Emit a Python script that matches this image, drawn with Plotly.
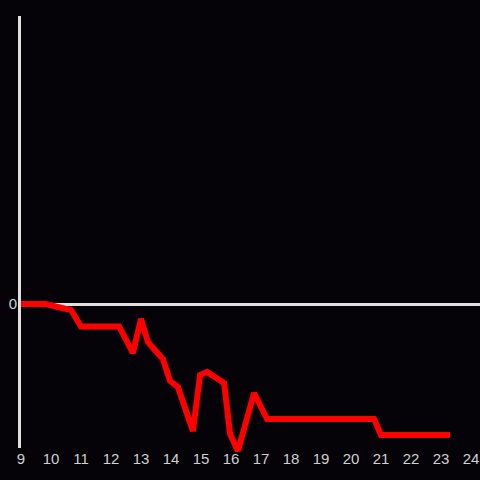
import plotly.graph_objects as go

# hours of the day (x) and value relative to start (y, arbitrary units)
hours = [9.0, 9.83, 10.67, 11.0, 12.27, 12.73, 13.0, 13.23, 13.73, 13.97, 14.23,
         14.73, 14.97, 15.2, 15.77, 15.97, 16.23, 16.77, 17.2, 20.77, 21.0, 23.3]
values = [0.0, 0.0, -0.042, -0.156, -0.156, -0.340, -0.104, -0.264, -0.382, -0.535, -0.576,
          -0.882, -0.493, -0.472, -0.549, -0.903, -1.021, -0.618, -0.799, -0.799, -0.910, -0.910]
x_ticks = list(range(9, 25))
y_ticks = [0]

BG = "#050308"
AX = "#e0e0e0"
TXT = "#d0d0d0"

W, H = 480, 480
mt, mb, ml, mr = 16, 4, 21, 0
plot_h = H - mt - mb
axis_bottom_px = 448
dom0 = (H - mb - axis_bottom_px) / plot_h

# scale: value -1 sits at the axis bottom, 2 at the top
units_per_px = 3 / (axis_bottom_px - mt)
y2_lo = -1 - (H - mb - axis_bottom_px) * units_per_px
x_hi = 9 + (W - ml - mr) / 30.0

fig = go.Figure()
# invisible copy on the primary axes so that the axis frame exists
fig.add_trace(go.Scatter(
    x=hours, y=values, mode="lines", xaxis="x", yaxis="y",
    line=dict(color="rgba(0,0,0,0)", width=0), hoverinfo="skip", showlegend=False,
))
fig.add_trace(go.Scatter(
    x=hours, y=values, mode="lines", xaxis="x", yaxis="y2",
    line=dict(color="#ff0000", width=6), hoverinfo="skip", showlegend=False,
))

fig.update_layout(
    width=W, height=H,
    margin=dict(l=ml, r=mr, t=mt, b=mb),
    paper_bgcolor=BG, plot_bgcolor="rgba(0,0,0,0)",
    font=dict(family="Liberation Sans, Arial, sans-serif", size=15, color=TXT),
    showlegend=False,
    xaxis=dict(range=[9, x_hi], tickvals=x_ticks, ticktext=[str(t) for t in x_ticks],
               showgrid=False, zeroline=False, showline=False, ticks="",
               anchor="y", automargin=False, fixedrange=True),
    yaxis=dict(domain=[dom0, 1], range=[-1, 2], showgrid=False, zeroline=False,
               showline=True, linecolor=AX, linewidth=3, showticklabels=False,
               ticks="", anchor="x", automargin=False, fixedrange=True),
    yaxis2=dict(domain=[0, 1], range=[y2_lo, 2], anchor="x",
                showgrid=False, zeroline=True, zerolinecolor=AX, zerolinewidth=3,
                showline=False, ticks="", tickvals=y_ticks, ticktext=["0"],
                ticklabelstandoff=3, automargin=False, fixedrange=True),
)

fig.write_html("out.html", config={"displayModeBar": False, "staticPlot": True},
               post_script="document.body.style.margin='0';")
